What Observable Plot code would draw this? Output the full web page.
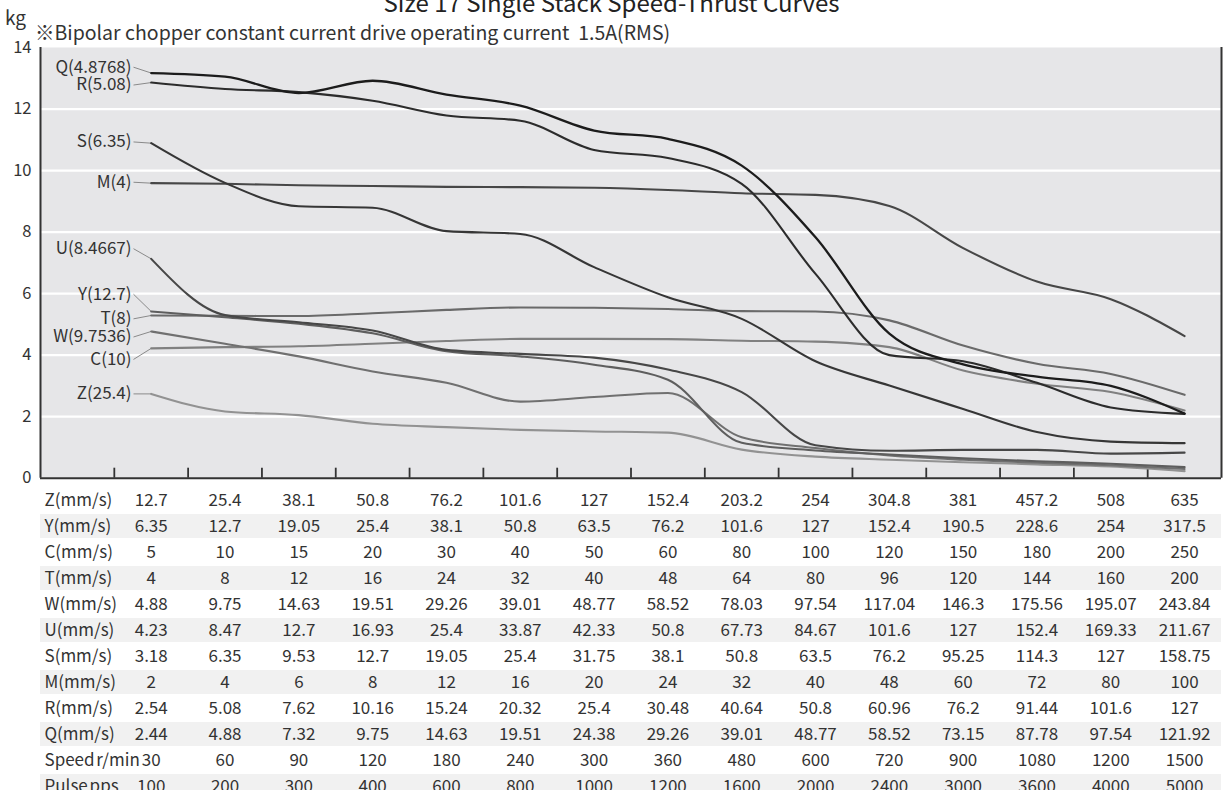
<!DOCTYPE html>
<html><head><meta charset="utf-8">
<script src="https://cdn.jsdelivr.net/npm/d3@7"></script>
<script src="https://cdn.jsdelivr.net/npm/@observablehq/plot@0.6"></script>
<style>
body{margin:0;background:#fff;font-family:"Noto Sans CJK JP","Noto Sans",sans-serif;color:#333;}
#wrap{position:relative;width:1223px;height:790px;overflow:hidden;}
#title{position:absolute;left:0;width:1223px;text-align:center;top:-11px;font-size:24px;line-height:26px;color:#222;white-space:nowrap;}
#unit{position:absolute;left:5px;top:7px;font-size:19px;line-height:20px;color:#333;}
#sub{position:absolute;left:35px;top:21px;font-size:19.5px;line-height:22px;color:#333;white-space:nowrap;}
#chart{position:absolute;left:0;top:40px;}
#table{position:absolute;left:0;top:480px;}
#table svg text{word-spacing:-2px;}
svg{overflow:visible}
</style></head><body>
<div id="wrap">
  <div id="title">Size 17 Single Stack Speed-Thrust Curves</div>
  <div id="unit">kg</div>
  <div id="sub">※Bipolar chopper constant current drive operating current&nbsp; 1.5A(RMS)</div>
  <div id="chart"></div>
  <div id="table"></div>
</div>
<script>
// ---------- DATA ----------
const seriesNames  = ["Z","C","W","T","Y","U","M","S","R","Q"];
const seriesLabels = ["Z(25.4)","C(10)","W(9.7536)","T(8)","Y(12.7)","U(8.4667)","M(4)","S(6.35)","R(5.08)","Q(4.8768)"];

const Q = [13.17, 13.05, 12.52, 12.92, 12.47, 12.11, 11.30, 11.03, 10.16, 7.83, 4.70, 3.70, 3.30, 3.00, 2.10];
const R = [12.86, 12.65, 12.55, 12.27, 11.79, 11.62, 10.67, 10.41, 9.57, 6.64, 4.00, 3.80, 3.10, 2.30, 2.09];
const S = [10.89, 9.60, 8.84, 8.79, 8.03, 7.94, 6.86, 5.88, 5.18, 3.80, 3.01, 2.25, 1.50, 1.19, 1.14];
const M = [9.59, 9.57, 9.52, 9.50, 9.47, 9.46, 9.44, 9.37, 9.26, 9.21, 8.85, 7.48, 6.39, 5.82, 4.62];
const U = [7.13, 5.30, 5.07, 4.80, 4.17, 4.04, 3.92, 3.53, 2.80, 1.07, 0.89, 0.92, 0.92, 0.80, 0.83];
const Y = [5.42, 5.23, 5.02, 4.71, 4.13, 3.96, 3.69, 3.20, 1.15, 0.90, 0.77, 0.65, 0.55, 0.47, 0.36];
const T = [5.29, 5.28, 5.27, 5.36, 5.47, 5.55, 5.54, 5.50, 5.43, 5.42, 5.13, 4.31, 3.72, 3.39, 2.71];
const W = [4.77, 4.37, 3.96, 3.47, 3.10, 2.49, 2.64, 2.77, 1.33, 0.98, 0.74, 0.60, 0.50, 0.42, 0.30];
const C = [4.22, 4.26, 4.29, 4.37, 4.46, 4.53, 4.53, 4.52, 4.47, 4.44, 4.26, 3.50, 3.07, 2.80, 2.20];
const Z = [2.74, 2.17, 2.05, 1.77, 1.66, 1.57, 1.52, 1.48, 0.93, 0.70, 0.60, 0.52, 0.45, 0.38, 0.23];

const yTicks = [0, 2, 4, 6, 8, 10, 12, 14];

const rowLabels = ["Z(mm/s)","Y(mm/s)","C(mm/s)","T(mm/s)","W(mm/s)","U(mm/s)","S(mm/s)","M(mm/s)","R(mm/s)","Q(mm/s)","Speed r/min","Pulse pps"];
const zSpeeds = ["12.7","25.4","38.1","50.8","76.2","101.6","127","152.4","203.2","254","304.8","381","457.2","508","635"];
const ySpeeds = ["6.35","12.7","19.05","25.4","38.1","50.8","63.5","76.2","101.6","127","152.4","190.5","228.6","254","317.5"];
const cSpeeds = ["5","10","15","20","30","40","50","60","80","100","120","150","180","200","250"];
const tSpeeds = ["4","8","12","16","24","32","40","48","64","80","96","120","144","160","200"];
const wSpeeds = ["4.88","9.75","14.63","19.51","29.26","39.01","48.77","58.52","78.03","97.54","117.04","146.3","175.56","195.07","243.84"];
const uSpeeds = ["4.23","8.47","12.7","16.93","25.4","33.87","42.33","50.8","67.73","84.67","101.6","127","152.4","169.33","211.67"];
const sSpeeds = ["3.18","6.35","9.53","12.7","19.05","25.4","31.75","38.1","50.8","63.5","76.2","95.25","114.3","127","158.75"];
const mSpeeds = ["2","4","6","8","12","16","20","24","32","40","48","60","72","80","100"];
const rSpeeds = ["2.54","5.08","7.62","10.16","15.24","20.32","25.4","30.48","40.64","50.8","60.96","76.2","91.44","101.6","127"];
const qSpeeds = ["2.44","4.88","7.32","9.75","14.63","19.51","24.38","29.26","39.01","48.77","58.52","73.15","87.78","97.54","121.92"];
const rpm     = ["30","60","90","120","180","240","300","360","480","600","720","900","1080","1200","1500"];
const pps     = ["100","200","300","400","600","800","1000","1200","1600","2000","2400","3000","3600","4000","5000"];

// ---------- LAYOUT / STYLE ----------
const seriesValues = {Q, R, S, M, U, Y, T, W, C, Z};
const seriesColors = {Q:"#1c1c1c", R:"#2c2c2c", S:"#363636", M:"#474747", U:"#474747", Y:"#5e5e5e", T:"#6a6a6a", W:"#707070", C:"#808080", Z:"#929292"};
const labelY = {Q:13.36, R:12.78, S:10.93, M:9.62, U:7.46, Y:5.98, T:5.18, W:4.59, C:3.86, Z:2.74};
const labelX = -0.24;
const xDomain = [-1.5, 14.5];
const tableRows = [zSpeeds, ySpeeds, cSpeeds, tSpeeds, wSpeeds, uSpeeds, sSpeeds, mSpeeds, rSpeeds, qSpeeds, rpm, pps];
const shadedRows = rowLabels.filter((d, k) => k % 2 === 1);
const xTicks = d3.range(0, 15).map(k => k - 0.5);
const FONT = '"Noto Sans CJK JP","Noto Sans",sans-serif';

// ---------- MAIN CHART ----------
const lineMarks = seriesNames.map(name => {
  const vals = seriesValues[name];
  return Plot.line(vals.map((v, i) => ({i, v})), {
    x: "i", y: "v", curve: "monotone-x",
    stroke: seriesColors[name], strokeWidth: name === "Q" ? 2.3 : 2.1
  });
});

const labelRows = seriesNames.map((name, k) => ({
  name, label: seriesLabels[k], ly: labelY[name], v0: seriesValues[name][0], i0: 0
}));

const chart = Plot.plot({
  width: 1223, height: 440,
  marginLeft: 40, marginRight: 2, marginTop: 7, marginBottom: 2.3,
  x: {domain: xDomain, label: null},
  y: {domain: [0, 14], label: null},
  style: {fontFamily: FONT, fontSize: "16px", color: "#333", background: "transparent", overflow: "visible"},
  marks: [
    Plot.frame({fill: "#e6e6e8", stroke: null}),
    Plot.gridY(yTicks.filter(t => t > 0 && t < 14), {stroke: "#ffffff", strokeOpacity: 1, strokeWidth: 2.2}),
    Plot.axisY(yTicks, {tickSize: 0, tickPadding: 9, fontSize: 16.5, fill: "#333", label: null}),
    Plot.axisX(xTicks, {tickSize: -10, tickFormat: () => "", stroke: "#333", strokeWidth: 1.8, label: null}),
    Plot.link(labelRows, {x1: labelX, y1: "ly", x2: "i0", y2: "v0", stroke: "#8a8a8a", strokeWidth: 1}),
    Plot.text(labelRows, {x: labelX, y: "ly", text: "label", textAnchor: "end", dx: -2, fontSize: 17, fill: "#333"}),
    ...lineMarks,
    Plot.ruleX([xDomain[0]], {stroke: "#333", strokeWidth: 2}),
    Plot.ruleX([xDomain[1]], {stroke: "#333", strokeWidth: 2}),
    Plot.ruleY([0], {stroke: "#333", strokeWidth: 2})
  ]
});
document.getElementById("chart").appendChild(chart);

// ---------- TABLE ----------
const cells = [];
tableRows.forEach((arr, r) => arr.forEach((t, i) => cells.push({row: rowLabels[r], i, t})));

const table = Plot.plot({
  width: 1223, height: 330,
  marginLeft: 40, marginRight: 2, marginTop: 0, marginBottom: 0,
  x: {domain: xDomain, axis: null},
  y: {type: "band", domain: rowLabels, range: [6.5, 318.5], padding: 0, axis: null},
  style: {fontFamily: FONT, fontSize: "17px", color: "#333", background: "transparent", overflow: "visible"},
  marks: [
    Plot.barX(shadedRows, {x1: xDomain[0], x2: xDomain[1], y: d => d, fill: "#f1f1f1", insetTop: 1, insetBottom: 1}),
    Plot.text(rowLabels, {x: xDomain[0], y: d => d, text: d => d, textAnchor: "start", dx: 4, fontSize: 17, fill: "#333"}),
    Plot.text(cells, {x: "i", y: "row", text: "t", fontSize: 17, fill: "#333"})
  ]
});
document.getElementById("table").appendChild(table);
</script>
</body></html>
